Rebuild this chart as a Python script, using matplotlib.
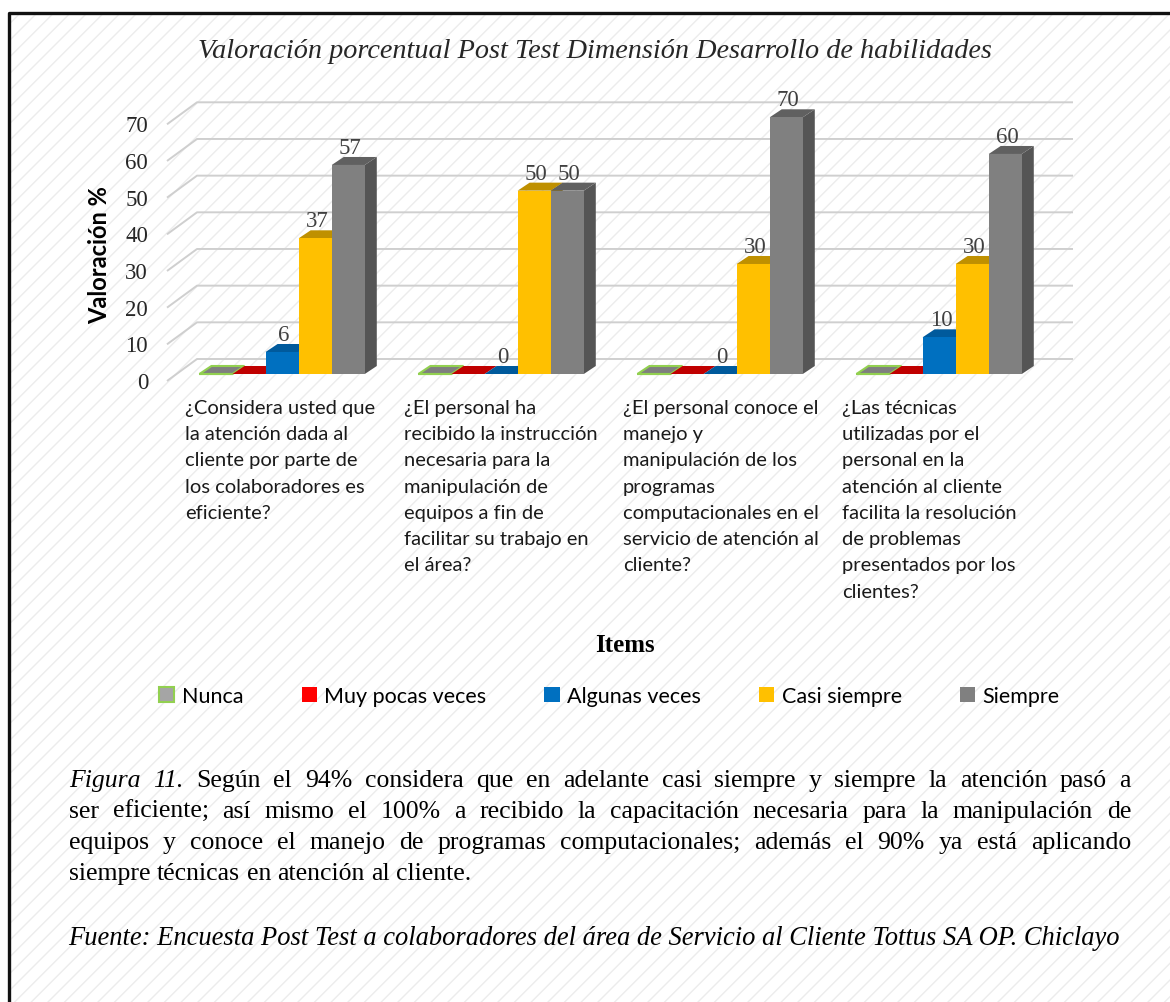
import numpy as np
import matplotlib.pyplot as plt
from matplotlib.patches import Rectangle, Polygon
from matplotlib.lines import Line2D

plt.rcParams['hatch.linewidth'] = 1.0

categories = [
    "¿Considera usted que\nla atención dada al\ncliente por parte de\nlos colaboradores es\neficiente?",
    "¿El personal ha\nrecibido la instrucción\nnecesaria para la\nmanipulación de\nequipos a fin de\nfacilitar su trabajo en\nel área?",
    "¿El personal conoce el\nmanejo y\nmanipulación de los\nprogramas\ncomputacionales en el\nservicio de atención al\ncliente?",
    "¿Las técnicas\nutilizadas por el\npersonal en la\natención al cliente\nfacilita la resolución\nde problemas\npresentados por los\nclientes?",
]
series_names = ["Nunca", "Muy pocas veces", "Algunas veces", "Casi siempre", "Siempre"]
nunca = [0, 0, 0, 0]
muy_pocas = [0, 0, 0, 0]
algunas = [6, 0, 0, 10]
casi_siempre = [37, 50, 30, 30]
siempre = [57, 50, 70, 60]
series_values = [nunca, muy_pocas, algunas, casi_siempre, siempre]
labelled = ["Algunas veces", "Casi siempre", "Siempre"]
y_ticks = [0, 10, 20, 30, 40, 50, 60, 70]

# front, top, side, edge
colors = {
    "Nunca": ("#A5A5A5", "#7F7F7F", "#6E6E6E", "#92D050"),
    "Muy pocas veces": ("#FF0000", "#C00000", "#A00000", None),
    "Algunas veces": ("#0070C0", "#005A9C", "#004F88", None),
    "Casi siempre": ("#FFC000", "#BF9000", "#A87F00", None),
    "Siempre": ("#808080", "#606060", "#555555", None),
}

title = "Valoración porcentual Post Test Dimensión Desarrollo de habilidades"
caption_lines = [
    [("Figura", "italic"), ("11.", "italic"), ("Según", "normal"), ("el", "normal"), ("94%", "normal"),
     ("considera", "normal"), ("que", "normal"), ("en", "normal"), ("adelante", "normal"), ("casi", "normal"),
     ("siempre", "normal"), ("y", "normal"), ("siempre", "normal"), ("la", "normal"), ("atención", "normal"),
     ("pasó", "normal"), ("a", "normal")],
    [(w, "normal") for w in "ser eficiente; así mismo el 100% a recibido la capacitación necesaria para la manipulación de".split()],
    [(w, "normal") for w in "equipos y conoce el manejo de programas computacionales; además el 90% ya está aplicando".split()],
    [(w, "normal") for w in "siempre técnicas en atención al cliente.".split()],
]
source = "Fuente: Encuesta Post Test a colaboradores del área de Servicio al Cliente Tottus SA OP. Chiclayo"

W, H = 1170, 1003
fig = plt.figure(figsize=(W / 100, H / 100), dpi=100)
fig.patch.set_facecolor("white")

# hatched page background and frame
fig.patches.append(Rectangle((8 / W, 0), 1 - 8 / W, (H - 13) / H, transform=fig.transFigure,
                             facecolor="white", edgecolor="#ECECEC", hatch="//", linewidth=0, zorder=-10))
fig.lines.append(Line2D([8.5 / W, 8.5 / W, 1], [0, (H - 13.5) / H, (H - 13.5) / H],
                        transform=fig.transFigure, color="#111111", linewidth=2.4, zorder=5))

# plot area of the bar plane, in pixels
ax_left, ax_right, ax_bottom, ax_top = 177, 1053, 375, 118.3
ax = fig.add_axes([ax_left / W, 1 - ax_bottom / H, (ax_right - ax_left) / W, (ax_bottom - ax_top) / H])
ax.set_xlim(0, len(categories))
ax.set_ylim(0, 70)
ax.axis("off")

px_x = (ax_right - ax_left) / len(categories)
px_y = (ax_bottom - ax_top) / 70.0

def ux(px):
    return px / px_x

def uy(px):
    return px / px_y

# gridlines: diagonal from the front edge, then along the back wall
n = len(categories)
for v in y_ticks:
    ax.plot([-ux(10), ux(20), n + ux(20)], [v - uy(7), v + uy(15), v + uy(15)],
            color="#CFCFCF", linewidth=1.4, clip_on=False, zorder=1, solid_capstyle="butt")
    ax.text(-ux(29), v - uy(8.5), str(v), ha="right", va="center", fontsize=16.5,
            family="Liberation Serif", color="#262626")

# 3D bars
bar_w = 0.151
ddx, ddy = ux(12), uy(8)
handles = []
for k, (name, vals) in enumerate(zip(series_names, series_values)):
    front, top, side, edge = colors[name]
    xs = np.arange(n) + 0.48 + (k - 2) * bar_w
    z = 3 + k * 0.1
    bars = ax.bar(xs, vals, width=bar_w, color=front, edgecolor=edge if edge else front,
                  linewidth=1.5 if edge else 0, zorder=z + 0.02, clip_on=False)
    handles.append(bars)
    for b in bars:
        x0, x1, h = b.get_x(), b.get_x() + b.get_width(), b.get_height()
        ax.add_patch(Polygon([[x1, 0], [x1 + ddx, ddy], [x1 + ddx, h + ddy], [x1, h]],
                             closed=True, facecolor=side, edgecolor="none", zorder=z, clip_on=False))
        ax.add_patch(Polygon([[x0, h], [x1, h], [x1 + ddx, h + ddy], [x0 + ddx, h + ddy]],
                             closed=True, facecolor=top, edgecolor=edge if edge else "none",
                             linewidth=1.5 if edge else 0, zorder=z + 0.01, clip_on=False))
        if name in labelled:
            ax.text(b.get_x() + b.get_width() / 2 + ux(2), h + uy(12), f"{h:g}", ha="center",
                    va="baseline", fontsize=16.5, family="Liberation Serif", color="#404040", zorder=10)

# category labels under each group
for i, lab in enumerate(categories):
    ax.text(i + ux(8), -uy(25), lab, ha="left", va="top", fontsize=14.5, family="Lato",
            color="#1a1a1a", linespacing=1.66)

fig.text(595 / W, 1 - 52 / H, title, ha="center", va="center", fontsize=20.3,
         family="Liberation Serif", style="italic", color="#262626")
fig.text(100 / W, 1 - 255 / H, "Valoración %", rotation=90, ha="center", va="center",
         fontsize=17, family="Lato", fontweight="bold", color="black")
fig.text(625 / W, 1 - 646 / H, "Items", ha="center", va="center", fontsize=18,
         family="Liberation Serif", fontweight="bold", color="black")

fig.legend(handles, series_names, loc="center", bbox_to_anchor=(609.5 / W, 1 - 697 / H), ncol=5,
           frameon=False, prop={"family": "Lato", "size": 15.5}, handlelength=0.7, handleheight=0.7,
           handletextpad=0.35, columnspacing=2.7)

# caption paragraph, justified word by word
renderer = fig.canvas.get_renderer()
cap_size = 18.5
left_px, right_px = 69, 1131
def measure(s, style="normal", size=cap_size):
    t = fig.text(0, 0, s, fontsize=size, family="Liberation Serif", style=style)
    w = t.get_window_extent(renderer).width
    t.remove()
    return w

space_w = measure("a a") - measure("aa")
baselines = [787, 818, 849, 880]
for li, (parts, yb) in enumerate(zip(caption_lines, baselines)):
    texts = [fig.text(0, 1 - yb / H, w, fontsize=cap_size, family="Liberation Serif", style=s,
                      ha="left", va="baseline", color="black") for w, s in parts]
    widths = [t.get_window_extent(renderer).width for t in texts]
    if li < len(caption_lines) - 1:
        gap = (right_px - left_px - sum(widths)) / (len(texts) - 1)
    else:
        gap = space_w
    x = left_px
    for t, w in zip(texts, widths):
        t.set_x(x / W)
        x += w + gap

fig.text(68 / W, 1 - 945 / H, source, ha="left", va="baseline", fontsize=19.1,
         family="Liberation Serif", style="italic", color="black")

fig.savefig("out.png", dpi=100)
